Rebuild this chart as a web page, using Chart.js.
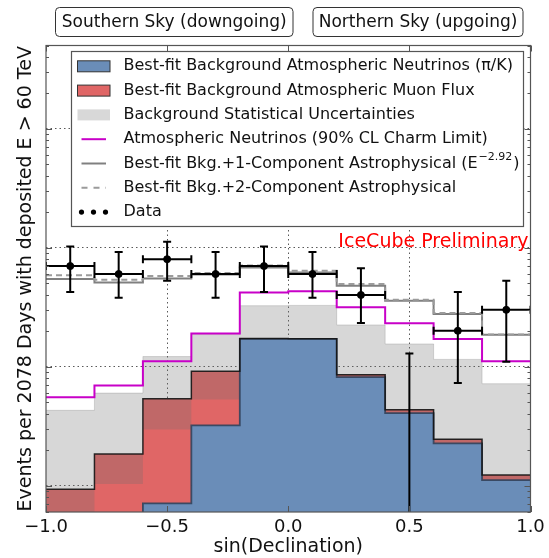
<!DOCTYPE html>
<html>
<head>
<meta charset="utf-8">
<script src="https://cdn.jsdelivr.net/npm/chart.js@4.4.1/dist/chart.umd.min.js"></script>
<style>
html,body{margin:0;padding:0;background:#fff;}
</style>
</head>
<body>
<canvas id="chart" width="549" height="558"></canvas>
<script>
// bins in sin(declination)
const binEdges   = [-1.0,-0.8,-0.6,-0.4,-0.2,0.0,0.2,0.4,0.6,0.8,1.0];
const binCenters = [-0.9,-0.7,-0.5,-0.3,-0.1,0.1,0.3,0.5,0.7,0.9];

// expectations per bin (events)
const convNu      = [0.03,0.04,0.071,0.321,1.71,1.71,0.815,0.407,0.226,0.111];
const muonFlux    = [0.063,0.144,0.467,0.594,0.01,0.005,0.039,0.028,0.019,0.0115];
const statLo      = [0.04,0.103,0.296,0.53,1.05,1.05,0.5,0.25,0.13,0.06];
const statHi      = [0.429,0.599,1.215,1.86,3.25,3.27,2.24,1.55,1.15,0.718];
const charmLimit  = [0.554,0.695,1.11,1.90,4.20,4.31,3.15,2.31,1.71,1.11];
const astroOne    = [5.44,5.09,5.50,5.94,6.80,6.17,4.78,3.58,2.77,1.85];
const astroTwo    = [5.87,5.36,5.79,6.11,7.07,6.38,4.94,3.65,2.82,1.86];

// observed events and their error bars
const dataCounts = [7,6,8,6,7,6,4,0,2,3];
const errLo      = [4.23,3.79,5.26,3.79,4.23,3.79,2.33,0,0.73,1.10];
const errHi      = [10.2,9.2,11.2,9.2,10.2,9.2,6.72,1.29,4.23,5.26];

const xTicks = [-1.0,-0.5,0.0,0.5,1.0];
const yMin = 0.06, yMax = 500;

const FONT = '"DejaVu Sans", sans-serif';
const C_BLUE = 'rgb(106,141,184)';
const C_RED = 'rgb(224,102,102)';
const C_BAND = 'rgba(110,110,110,0.28)';
const C_CHARM = 'rgb(200,0,200)';
const C_ONE = 'rgb(128,128,128)';
const C_TWO = 'rgb(155,155,155)';

const total = convNu.map((v,i)=>v+muonFlux[i]);

function steps(vals){
  const pts = vals.map((v,i)=>({x:binEdges[i], y:v}));
  pts.push({x:binEdges[binEdges.length-1], y:vals[vals.length-1]});
  return pts;
}
function stepLine(label, vals, extra){
  return Object.assign({label, data:steps(vals), stepped:'before', pointRadius:0, fill:false, borderWidth:2}, extra);
}

const legendItems = [
  {kind:'box', fill:C_BLUE, stroke:'#333', text:'Best-fit Background Atmospheric Neutrinos (\u03c0/K)'},
  {kind:'box', fill:C_RED, stroke:'#333', text:'Best-fit Background Atmospheric Muon Flux'},
  {kind:'box', fill:'rgb(216,216,216)', stroke:null, text:'Background Statistical Uncertainties'},
  {kind:'line', color:C_CHARM, text:'Atmospheric Neutrinos (90% CL Charm Limit)'},
  {kind:'line', color:C_ONE, text:'Best-fit Bkg.+1-Component Astrophysical (E', sup:'\u22122.92', tail:')'},
  {kind:'dash', color:C_TWO, text:'Best-fit Bkg.+2-Component Astrophysical'},
  {kind:'dots', text:'Data'}
];

function roundBox(ctx,x,y,w,h,r){
  ctx.beginPath();
  ctx.moveTo(x+r,y); ctx.lineTo(x+w-r,y); ctx.quadraticCurveTo(x+w,y,x+w,y+r);
  ctx.lineTo(x+w,y+h-r); ctx.quadraticCurveTo(x+w,y+h,x+w-r,y+h);
  ctx.lineTo(x+r,y+h); ctx.quadraticCurveTo(x,y+h,x,y+h-r);
  ctx.lineTo(x,y+r); ctx.quadraticCurveTo(x,y,x+r,y);
  ctx.closePath();
}

const decor = {
  id:'decor',
  afterDatasetsDraw(chart){
    const {ctx, chartArea:a, scales:{x,y}} = chart;
    const half = (binEdges[1]-binEdges[0])/2;
    ctx.save();
    ctx.beginPath(); ctx.rect(a.left,a.top,a.right-a.left,a.bottom-a.top); ctx.clip();
    ctx.strokeStyle='#000'; ctx.lineWidth=2;
    dataCounts.forEach((n,i)=>{
      const cx = x.getPixelForValue(binCenters[i]);
      const top = y.getPixelForValue(errHi[i]);
      const bot = errLo[i]>0 ? y.getPixelForValue(errLo[i]) : a.bottom;
      ctx.beginPath();
      ctx.moveTo(cx,top); ctx.lineTo(cx,bot);
      ctx.moveTo(cx-4,top); ctx.lineTo(cx+4,top);
      if(errLo[i]>0){ ctx.moveTo(cx-4,bot); ctx.lineTo(cx+4,bot); }
      if(n>0){
        const cy = y.getPixelForValue(n);
        const l = x.getPixelForValue(binCenters[i]-half), r = x.getPixelForValue(binCenters[i]+half);
        ctx.moveTo(l,cy); ctx.lineTo(r,cy);
        ctx.moveTo(l,cy-4); ctx.lineTo(l,cy+4);
        ctx.moveTo(r,cy-4); ctx.lineTo(r,cy+4);
      }
      ctx.stroke();
    });
    ctx.restore();
  },
  afterDraw(chart){
    const {ctx, chartArea:a, scales:{x,y}} = chart;
    ctx.save();
    // frame + inward ticks
    ctx.strokeStyle='#555'; ctx.lineWidth=1.2;
    ctx.strokeRect(a.left,a.top,a.right-a.left,a.bottom-a.top);
    ctx.lineWidth=1;
    ctx.beginPath();
    for(let e=-2;e<=2;e++){
      for(let m=1;m<=9;m++){
        const v=m*Math.pow(10,e);
        if(v<yMin||v>yMax) continue;
        const p=Math.round(y.getPixelForValue(v))+0.5, len=m===1?6:3;
        ctx.moveTo(a.left,p); ctx.lineTo(a.left+len,p);
        ctx.moveTo(a.right,p); ctx.lineTo(a.right-len,p);
      }
    }
    xTicks.forEach(v=>{
      const p=Math.round(x.getPixelForValue(v))+0.5;
      ctx.moveTo(p,a.bottom); ctx.lineTo(p,a.bottom-6);
      ctx.moveTo(p,a.top); ctx.lineTo(p,a.top+6);
    });
    ctx.stroke();

    // legend
    const lx=71.5, ly=51.5, lw=452, lh=175, row=24.3;
    ctx.fillStyle='#fff'; ctx.fillRect(lx,ly,lw,lh);
    ctx.strokeStyle='#555'; ctx.lineWidth=1.2; ctx.strokeRect(lx,ly,lw,lh);
    ctx.textBaseline='middle'; ctx.textAlign='left';
    legendItems.forEach((it,i)=>{
      const cy = ly+14.8+i*row;
      const sx=77.5, sw=32.5;
      if(it.kind==='box'){
        ctx.fillStyle=it.fill; ctx.fillRect(sx,cy-5.5,sw,11);
        if(it.stroke){ ctx.strokeStyle=it.stroke; ctx.lineWidth=1; ctx.strokeRect(sx,cy-5.5,sw,11); }
      } else if(it.kind==='line'||it.kind==='dash'){
        ctx.strokeStyle=it.color; ctx.lineWidth=2;
        ctx.setLineDash(it.kind==='dash'?[6,6]:[]);
        ctx.beginPath(); ctx.moveTo(sx+4,cy); ctx.lineTo(sx+sw-4,cy); ctx.stroke();
        ctx.setLineDash([]);
      } else {
        ctx.fillStyle='#000';
        [sx+4,sx+16,sx+28].forEach(px=>{ ctx.beginPath(); ctx.arc(px,cy,2.6,0,Math.PI*2); ctx.fill(); });
      }
      ctx.fillStyle='#111'; ctx.font='16px '+FONT;
      ctx.fillText(it.text,123.5,cy);
      if(it.sup){
        let w=ctx.measureText(it.text).width;
        ctx.font='11px '+FONT; ctx.fillText(it.sup,123.5+w+1,cy-6);
        w+=ctx.measureText(it.sup).width+2;
        ctx.font='16px '+FONT; ctx.fillText(it.tail,123.5+w,cy);
      }
    });

    // sky boxes above the plot
    ctx.font='17px '+FONT; ctx.textAlign='center';
    [['Southern Sky (downgoing)',55,7,237.5],['Northern Sky (upgoing)',312.5,7,210]].forEach(([t,bx,by,bw])=>{
      roundBox(ctx,bx+0.5,by+0.5,bw,29,4);
      ctx.fillStyle='#fff'; ctx.fill();
      ctx.strokeStyle='#333'; ctx.lineWidth=1; ctx.stroke();
      ctx.fillStyle='#111'; ctx.fillText(t,bx+bw/2+0.5,by+15.5);
    });

    // preliminary tag
    ctx.font='19px '+FONT; ctx.textAlign='right'; ctx.textBaseline='alphabetic';
    ctx.fillStyle='#ff0000'; ctx.fillText('IceCube Preliminary',528.5,246.5);
    ctx.restore();
  }
};

const isDecade = v => Math.abs(Math.log10(v)-Math.round(Math.log10(v)))<1e-9;

new Chart(document.getElementById('chart'),{
  type:'line',
  data:{datasets:[
    stepLine('stat lo', statLo, {borderWidth:0, order:20}),                                   // 0
    stepLine('muons', total, {borderWidth:0, backgroundColor:C_RED, fill:{target:2}, order:30}), // 1
    stepLine('nu', convNu, {borderColor:'rgba(50,65,90,0.9)', borderWidth:1.8, backgroundColor:C_BLUE, fill:'start', order:10}), // 2
    stepLine('stat hi', statHi, {borderColor:'rgba(110,110,110,0.25)', borderWidth:1, backgroundColor:C_BAND, fill:{target:0}, order:20}), // 3
    stepLine('total', total, {borderColor:'rgba(20,20,20,0.9)', borderWidth:1.5, order:8}), // 4
    stepLine('charm', charmLimit, {borderColor:C_CHARM, borderWidth:2, order:6}),           // 5
    stepLine('astro1', astroOne, {borderColor:C_ONE, borderWidth:2, order:5}),              // 6
    stepLine('astro2', astroTwo, {borderColor:C_TWO, borderWidth:2, borderDash:[6,4], order:4}), // 7
    {label:'data', data:binCenters.map((c,i)=>({x:c, y:dataCounts[i]>0?dataCounts[i]:null})),
     showLine:false, pointRadius:3.5, pointBackgroundColor:'#000', pointBorderColor:'#000', order:0}
  ]},
  options:{
    responsive:false, animation:false, devicePixelRatio:1,
    layout:{padding:{left:0,right:18.5,top:45.5,bottom:0}},
    plugins:{legend:{display:false}, tooltip:{enabled:false}},
    scales:{
      x:{type:'linear', min:-1, max:1,
        afterBuildTicks:s=>{ s.ticks = xTicks.map(v=>({value:v})); },
        afterFit:s=>{ s.height=46; s.paddingLeft=0; s.paddingRight=0; },
        ticks:{padding:5, color:'#111', font:{family:FONT,size:18}, maxRotation:0,
          callback:v=>(v<0?'\u2212':'')+Math.abs(v).toFixed(1)},
        grid:{drawTicks:false, color:c=>(c.tick && Math.abs(c.tick.value)<0.99)?'rgba(60,60,60,0.85)':'transparent', lineWidth:1},
        border:{display:false, dash:[1.5,3]},
        title:{display:true, text:'sin(Declination)', color:'#111', font:{family:FONT,size:19}, padding:{top:0,bottom:0}}
      },
      y:{type:'logarithmic', min:yMin, max:yMax,
        afterFit:s=>{ s.width=46; },
        ticks:{display:false},
        grid:{drawTicks:false, color:c=>(c.tick && isDecade(c.tick.value))?'rgba(60,60,60,0.85)':'transparent', lineWidth:1},
        border:{display:false, dash:[1.5,3]},
        title:{display:true, text:'Events per 2078 Days with deposited E > 60 TeV', color:'#111', font:{family:FONT,size:19}, padding:{top:15,bottom:0}}
      }
    }
  },
  plugins:[decor]
});
</script>
</body>
</html>
